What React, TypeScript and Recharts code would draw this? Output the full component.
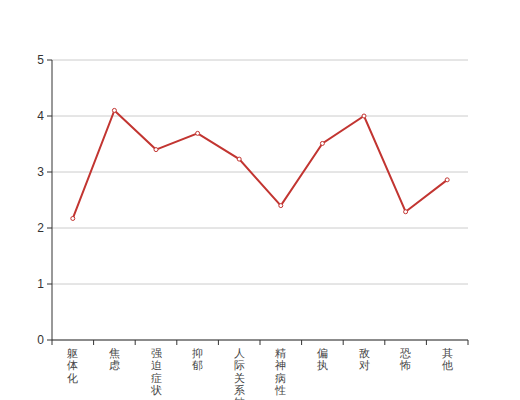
import React from 'react'
import { LineChart, Line, XAxis, YAxis, CartesianGrid } from 'recharts'

const categories = ['躯体化', '焦虑', '强迫症状', '抑郁', '人际关系敏感', '精神病性', '偏执', '敌对', '恐怖', '其他']
const scores = [2.17, 4.1, 3.4, 3.69, 3.23, 2.4, 3.51, 4.0, 2.29, 2.86]
const yTicks = [0, 1, 2, 3, 4, 5]

const data = categories.map((name, i) => ({ name, score: scores[i] }))

const RED = '#c23531'
const AXIS = '#333'
const BAND = 416 / categories.length

function VerticalTick(props: any) {
    const { x, y, payload, index } = props
    const chars: string[] = Array.from(String(payload.value))
    const last = index === categories.length - 1
    return (
        <g>
            <line x1={x - BAND / 2} y1={y} x2={x - BAND / 2} y2={y + 5} stroke={AXIS} />
            {last && <line x1={x + BAND / 2} y1={y} x2={x + BAND / 2} y2={y + 5} stroke={AXIS} />}
            <text x={x} y={y + 17} textAnchor="middle" fill="#444" fontSize={11}>
                {chars.map((c, i) => (
                    <tspan key={i} x={x} dy={i === 0 ? 0 : 12.3}>
                        {c}
                    </tspan>
                ))}
            </text>
        </g>
    )
}

export default function App() {
    if (typeof document !== 'undefined') document.body.style.margin = '0'
    return (
        <div style={{ width: 520, height: 400, fontFamily: 'sans-serif' }}>
            <LineChart width={520} height={400} data={data} margin={{ top: 60, right: 52, bottom: 0, left: 0 }}>
                <CartesianGrid vertical={false} stroke="#ccc" />
                <XAxis
                    dataKey="name"
                    scale="band"
                    interval={0}
                    height={60}
                    tickLine={false}
                    tickSize={0}
                    tickMargin={0}
                    axisLine={{ stroke: AXIS }}
                    tick={<VerticalTick />}
                />
                <YAxis
                    width={52}
                    domain={[0, 5]}
                    ticks={yTicks}
                    tickSize={5}
                    tickMargin={3}
                    axisLine={{ stroke: AXIS }}
                    tickLine={{ stroke: AXIS }}
                    tick={{ fill: '#333', fontSize: 12 }}
                />
                <Line
                    type="linear"
                    dataKey="score"
                    stroke={RED}
                    strokeWidth={2}
                    dot={{ r: 2, fill: '#fff', stroke: RED, strokeWidth: 1 }}
                    isAnimationActive={false}
                />
            </LineChart>
        </div>
    )
}
